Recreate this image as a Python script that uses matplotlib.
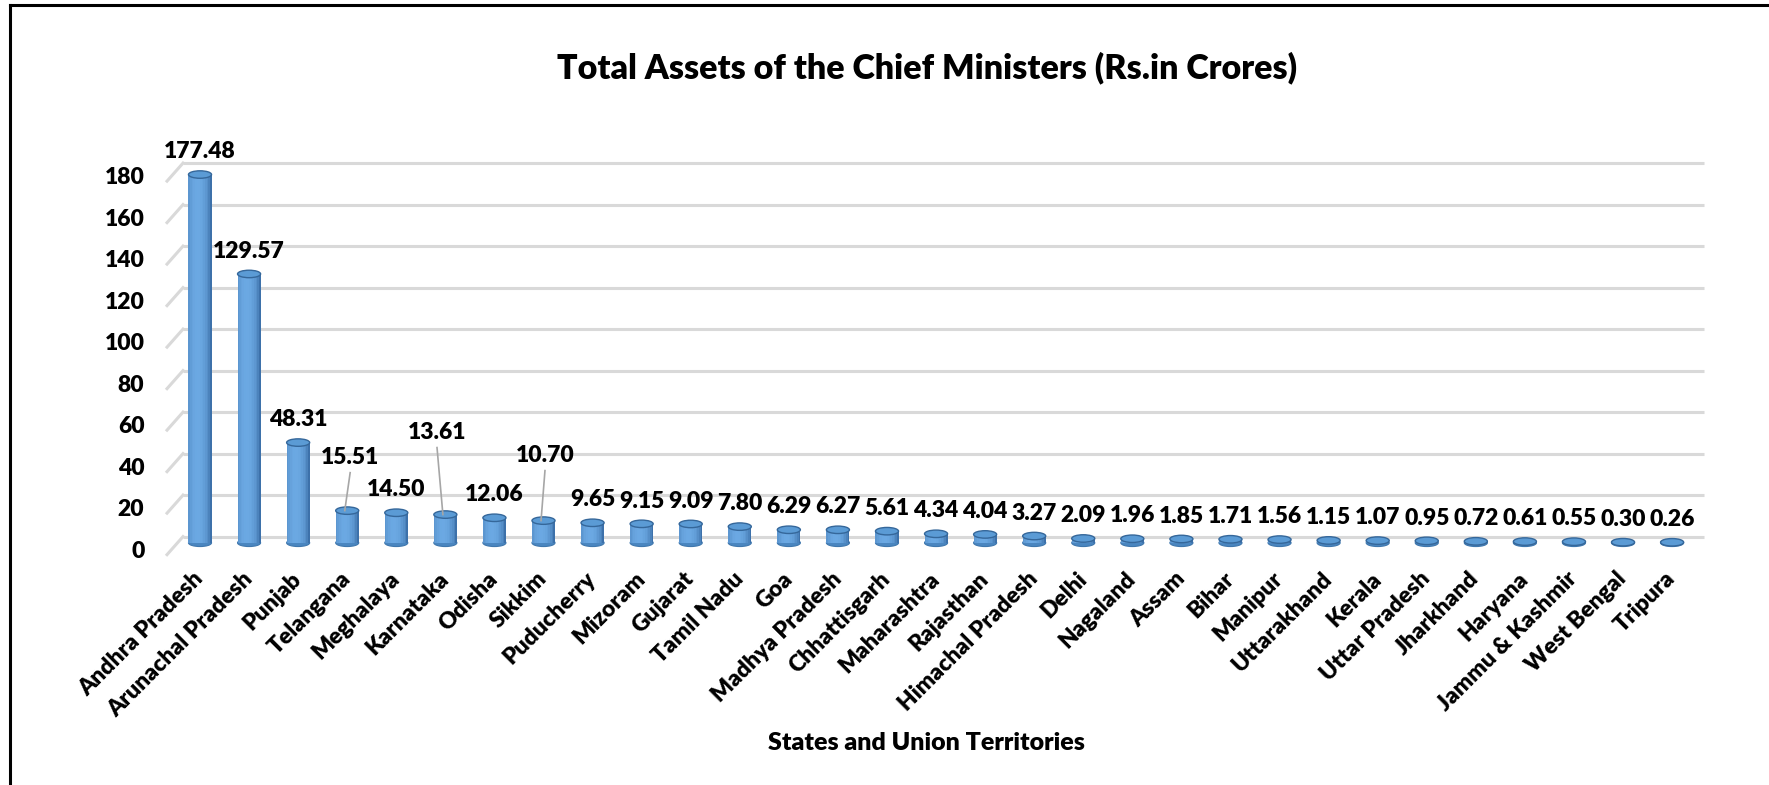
import numpy as np
import matplotlib
matplotlib.use("Agg")
import matplotlib.pyplot as plt
from matplotlib.patches import Ellipse
from matplotlib.lines import Line2D

plt.rcParams['font.family'] = ['Lato', 'DejaVu Sans']
wt = 'heavy'

states = ["Andhra Pradesh", "Arunachal Pradesh", "Punjab", "Telangana", "Meghalaya",
          "Karnataka", "Odisha", "Sikkim", "Puducherry", "Mizoram", "Gujarat",
          "Tamil Nadu", "Goa", "Madhya Pradesh", "Chhattisgarh", "Maharashtra",
          "Rajasthan", "Himachal Pradesh", "Delhi", "Nagaland", "Assam", "Bihar",
          "Manipur", "Uttarakhand", "Kerala", "Uttar Pradesh", "Jharkhand", "Haryana",
          "Jammu & Kashmir", "West Bengal", "Tripura"]
assets = [177.48, 129.57, 48.31, 15.51, 14.50, 13.61, 12.06, 10.70, 9.65, 9.15, 9.09,
          7.80, 6.29, 6.27, 5.61, 4.34, 4.04, 3.27, 2.09, 1.96, 1.85, 1.71, 1.56, 1.15,
          1.07, 0.95, 0.72, 0.61, 0.55, 0.30, 0.26]
yticks = list(range(0, 181, 20))

# labels that were dragged away from their bar (x, y in axis units)
moved_labels = {3: (3.06, 44.3), 5: (4.83, 56.4), 7: (7.03, 45.3)}

W, H = 1769, 785
fig = plt.figure(figsize=(W / 100, H / 100), dpi=100)
ax = fig.add_axes([150 / W, 1 - 570 / H, 1570 / W, 470 / H])
ax.set_xlim(-1.019, 30.976)
ax.set_ylim(-10.1, 216.4)

# 3d-ish depth offsets
back = 6.0    # back wall relative to front (ticks)
base = 3.0    # cylinder base
bw = 0.47     # cylinder width
eh = 3.6      # ellipse height
fs = 16.5

# gridlines on the back wall + small diagonal on the side
for v in yticks:
    ax.plot([-0.346, 30.65], [v + back, v + back], color='#d9d9d9', lw=2.2, zorder=1,
            solid_capstyle='butt')
    ax.plot([-0.672, -0.346], [v - 2.7, v + back], color='#d9d9d9', lw=2.2, zorder=1)

dark = np.array([0.17, 0.36, 0.58])
light = np.array([0.42, 0.66, 0.89])
nstrip = 14
x = np.arange(len(states))
for i, val in enumerate(assets):
    ax.add_patch(Ellipse((x[i], base), bw, eh, facecolor='#4a86c0', edgecolor='#3f77ad',
                         lw=0.8, zorder=3))
    for k in range(nstrip):
        t = -1 + (k + 0.5) * 2 / nstrip
        f = np.clip(1 - ((t + 0.2) / 1.2) ** 2, 0, 1) ** 0.6
        c = dark + (light - dark) * f
        ax.bar(x[i] - bw / 2 + (k + 0.5) * bw / nstrip, val, bottom=base,
               width=bw / nstrip * 1.02, color=c, linewidth=0, zorder=4)
    ax.add_patch(Ellipse((x[i], base + val), bw, eh, facecolor='#5b9bd5', edgecolor='#35679a',
                         lw=1.0, zorder=5))

    if i in moved_labels:
        lx, ly = moved_labels[i]
        ax.plot([lx, x[i] - 0.05], [ly - 7.5, base + val], color='#a6a6a6', lw=1.2, zorder=6)
        ax.text(lx, ly, f"{val:.2f}", ha='center', va='center', fontsize=fs,
                fontweight=wt, zorder=7)
    else:
        ax.text(x[i], base + val + 11, f"{val:.2f}", ha='center', va='center',
                fontsize=fs, fontweight=wt, zorder=7)

ax.set_yticks(yticks)
ax.set_yticklabels([str(v) for v in yticks], fontsize=fs, fontweight=wt)
ax.set_xticks(x)
ax.set_xticklabels(states, rotation=45, ha='right', va='center', rotation_mode='anchor',
                   fontsize=fs, fontweight=wt)
ax.tick_params(axis='y', length=0, pad=4)
ax.tick_params(axis='x', length=0, pad=4)
for s in ax.spines.values():
    s.set_visible(False)

fig.text(927 / W, 1 - 68 / H, "Total Assets of the Chief Ministers (Rs.in Crores)",
         ha='center', va='center', fontsize=24.5, fontweight=wt)
fig.text(926 / W, 1 - 743 / H, "States and Union Territories", ha='center', va='center',
         fontsize=18, fontweight=wt)

# border of the chart area (only left and top visible in the crop)
fig.add_artist(Line2D([10 / W, 10 / W], [0, 1 - 5 / H], color='black', lw=2.2))
fig.add_artist(Line2D([10 / W, 1], [1 - 5 / H, 1 - 5 / H], color='black', lw=2.2))

fig.savefig("out.png", dpi=100)
